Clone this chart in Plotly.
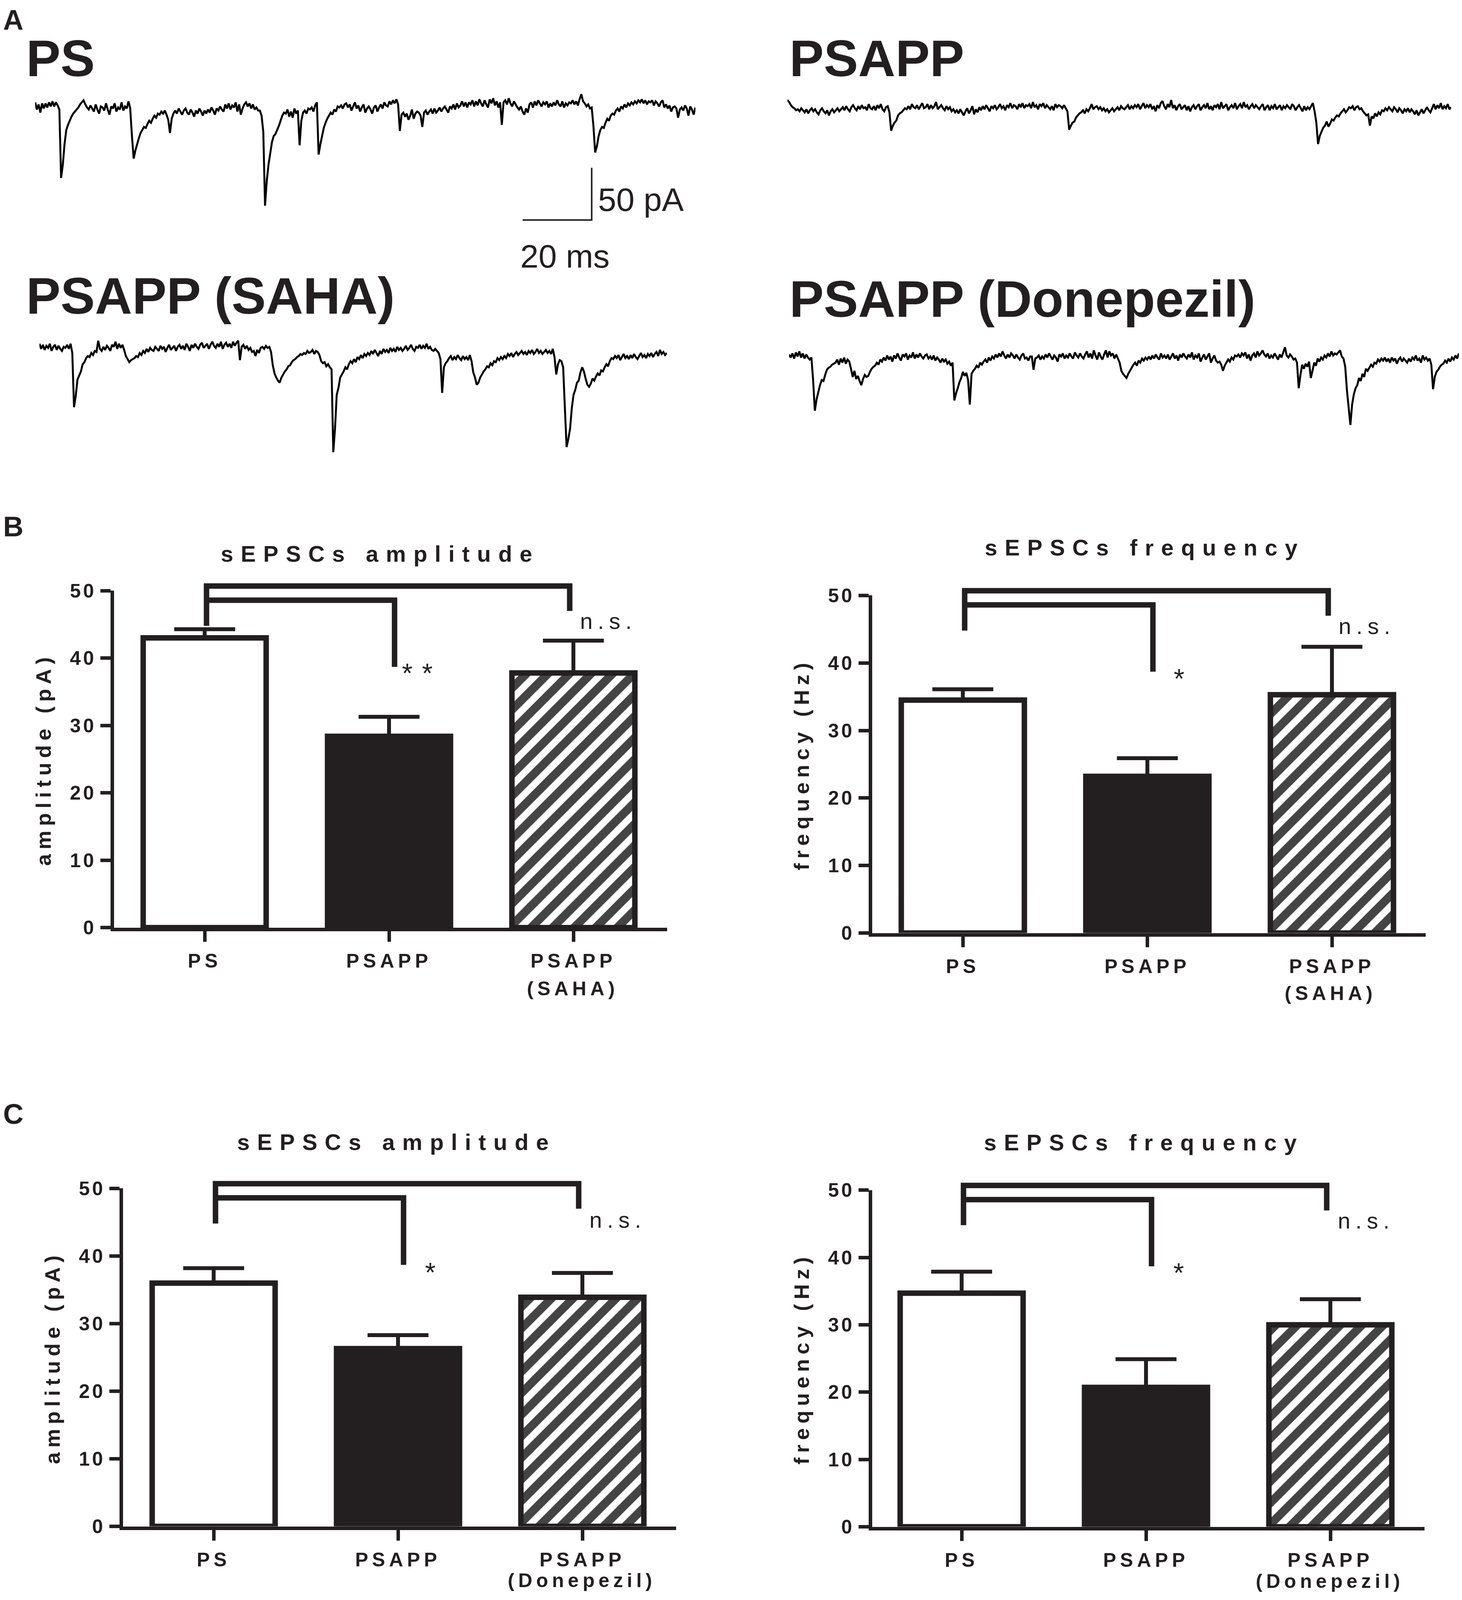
import numpy as np
import plotly.graph_objects as go

W, H = 3743, 4472
PAGE_MARGIN = 8  # browser default on <body>
INK = "#231f20"
SANS = "Liberation Sans"

# sampled current traces, one value every 0.5 ms, in pA
dt = 0.5
ps_trace = [
    3,-4,1,-7,2,-3,2,-2,3,-1, 4,-1,3,0,-4,-71,-58,-38,-24,-19,
    -15,-11,-8,-6,-4,-2,1,3,5,1, -2,-4,0,-3,-6,1,-4,-8,-1,-2,
    -5,2,-4,-9,-1,-3,2,-6,-2,-4, 3,-5,-1,-3,4,-3,-30,-52,-44,-38,
    -32,-27,-24,-21,-22,-18,-15,-17,-13,-10, -12,-8,-9,-6,-8,-5,-9,-14,-27,-13,
    -8,-5,-8,-3,-6,-9,-5,-3,-7,-9, -4,-7,-11,-5,-8,-3,-6,-10,-5,-8,
    -4,-7,-2,-5,-9,-3,-5,-1,-4,-6, 1,-3,2,-4,0,-2,3,-6,1,-9,
    -3,1,3,-1,2,-3,1,-4,-2,-5, -5,-10,-26,-98,-74,-58,-47,-36,-30,-28,
    -24,-20,-15,-10,-7,-8,-4,-11,-6,-12, -3,-8,-5,-39,-15,-7,-5,-8,-3,-4,
    -2,-6,0,3,-48,-38,-30,-22,-17,-13, -10,-7,-9,-4,-6,-1,-2,0,-3,1,
    2,-2,1,-5,-1,3,-3,0,-6,-2, 1,-7,-3,-1,-4,-8,-2,0,-6,-2,
    1,-3,3,0,-1,4,1,5,2,6, 1,-25,-9,-7,-11,-8,-14,-10,-4,-13,
    -8,-6,-7,-10,-21,-7,-5,-9,-6,-4, -8,-3,-7,-5,-2,-6,-3,-1,-4,-7,
    -1,-3,1,-4,2,-2,0,4,-1,3, -2,3,1,5,-1,4,0,6,2,-1,
    5,1,-2,6,2,7,0,4,-2,3, -19,3,5,1,7,2,-1,4,1,-2,
    -4,-1,-6,-9,-3,-7,1,3,-2,4, 0,5,2,-1,3,1,4,-2,2,-1,
    3,0,5,1,-1,4,-2,2,0,3, 2,5,1,4,0,6,11,4,2,-1,
    1,-3,-2,-20,-46,-40,-30,-24,-21,-22, -17,-13,-15,-10,-8,-9,-5,-3,-6,-1,
    -3,1,-2,2,0,3,1,4,2,5, 3,6,2,5,1,4,3,5,0,4,
    2,-1,3,5,-2,1,-3,0,-6,-2, -1,-3,-12,-4,-2,-5,0,-3,-10,-1,
    -4,-9,-2,
]
psapp_trace = [
    7,5,2,0,-1,-3,-2,-4,-1,-3, -5,-2,-6,-3,-1,-4,-2,-5,-7,-3,
    -1,-4,-6,-3,-8,-4,-2,-5,-3,-1, -4,-2,0,-3,1,-2,-4,0,2,-1,
    -3,1,-2,2,-1,0,-3,3,-1,-2, 1,-3,2,-1,3,-2,-4,0,1,-5,
    -23,-18,-15,-13,-8,-6,-5,-3,-1,-2, 1,-2,3,0,-1,2,-2,1,4,-1,
    0,3,-2,2,-1,1,5,-2,0,2, -1,-3,1,-2,0,-4,-2,-5,-3,-6,
    -2,-5,-8,-4,-1,-6,-3,1,-7,-2, -5,0,-3,1,-2,2,-1,-4,1,-1,
    2,-2,0,3,-1,1,-3,2,0,4, -1,2,1,-2,3,0,4,-1,2,1,
    3,-1,5,0,2,-2,3,1,4,-1, 2,0,-2,1,-3,3,0,2,1,-1,
    2,-1,-4,-22,-18,-15,-14,-10,-8,-6, -5,-3,-6,-2,-4,-1,3,-2,0,1,
    -2,0,-3,-1,-4,-2,-5,-3,-1,-4, -2,0,-3,1,-1,-2,0,2,-2,1,
    -1,2,0,3,-2,1,4,-1,2,0, 3,-2,1,-4,2,-1,4,6,1,-2,
    3,0,7,-1,2,-3,1,3,-2,0, 2,-3,1,-4,0,2,-2,1,3,-3,
    0,2,-1,4,-2,1,-3,2,0,3, -2,5,-1,1,3,-3,0,2,-1,4,
    -2,1,3,-1,5,0,2,-2,1,3, -1,2,0,-2,1,3,-3,0,2,-3,
    1,-1,3,-2,0,2,-3,1,-1,2, 0,-2,3,1,-3,0,2,-1,-4,1,
    -3,0,-2,1,4,-4,-15,-36,-28,-24, -20,-18,-14,-19,-16,-12,-13,-10,-8,-9,
    -6,-4,-2,-5,-3,0,-1,1,-3,0, 1,-2,-1,-4,-6,-8,-7,-18,-9,-11,
    -6,-9,-5,-7,-3,-4,-1,-3,0,-2, -4,0,-2,-5,-1,-3,-6,-2,-4,-1,
    -5,-2,-4,-7,-3,-8,-5,-2,-6,-3, 0,-3,-5,-1,3,-2,2,-1,4,-2,
    1,-1,3,-2,0,
]
saha_trace = [
    3,-2,2,-3,1,-1,3,-4,0,2, -3,1,-2,-4,0,-1,2,-2,3,-6,
    -59,-48,-32,-28,-24,-17,-15,-11,-9,-10, -6,-8,-4,-5,6,-2,-4,0,-3,1,
    -1,-4,2,0,5,-2,3,-1,2,-3, -9,-12,-15,-13,-12,-11,-9,-10,-6,-8,
    -4,-6,-2,-5,-1,-3,-4,0,-2,-4, 1,-2,0,-5,-1,2,-3,-1,1,-4,
    0,2,-2,1,-3,3,0,-4,2,-1, 3,0,-2,2,4,-1,1,3,-2,2,
    5,1,-1,3,0,5,-2,2,4,0, 3,-1,5,1,4,6,-13,0,2,-2,
    1,-3,-1,-5,-4,-9,-3,-6,-1,0, -2,1,-1,0,-5,-18,-26,-30,-33,-35,
    -30,-27,-24,-22,-19,-18,-15,-13,-12,-10, -9,-7,-8,-6,-7,-4,-6,-5,-3,-7,
    -4,-5,-8,-14,-16,-15,-19,-17,-20,-22, -103,-80,-47,-40,-30,-27,-24,-20,-22,-17,
    -14,-16,-12,-15,-10,-12,-8,-11,-7,-9, -6,-8,-4,-7,-3,-6,-9,-4,-7,-2,
    -5,-3,-6,-1,-4,-2,-5,0,-3,-1, -4,-2,1,-3,-1,2,-2,-4,0,-1,
    2,-2,1,-1,3,-2,0,-3,-4,-2, -4,-6,-12,-45,-20,-16,-14,-11,-9,-13,
    -10,-12,-8,-11,-13,-9,-12,-10,-13,-8, -14,-25,-30,-37,-35,-30,-27,-24,-22,-19,
    -20,-16,-18,-14,-15,-11,-13,-10,-12,-9, -11,-7,-9,-6,-10,-7,-5,-8,-6,-4,
    -7,-5,-8,-4,-6,-3,-7,-5,-2,-6, -4,-7,-5,-3,-6,-4,-7,-2,-10,-27,
    -17,-13,-14,-20,-60,-98,-90,-80,-60,-47, -42,-35,-33,-25,-20,-24,-31,-37,-39,-36,
    -31,-33,-29,-26,-28,-23,-24,-20,-17,-19, -14,-11,-12,-9,-11,-8,-13,-10,-7,-11,
    -9,-12,-8,-11,-7,-10,-12,-9,-6,-10, -8,-11,-7,-9,-6,-10,-7,-5,-9,-3,
    -7,-5,-8,-6,
]
donepezil_trace = [
    2,-1,3,-2,4,0,5,-1,3,-2, 2,-1,-3,-1,-23,-53,-42,-35,-28,-23,
    -24,-18,-13,-11,-10,-8,-7,-6,-3,-8, -2,-6,-1,-7,-3,-5,-12,-20,-14,-22,
    -19,-24,-28,-22,-18,-20,-19,-15,-12,-10, -9,-6,-8,-3,-5,-1,-4,1,-3,0,
    -5,1,-2,3,-1,-4,2,0,3,-3, 1,-1,4,-2,2,-1,3,0,-2,1,
    2,-2,0,-3,1,-4,-1,-3,-6,-2, -5,-3,-7,-5,-9,-6,-43,-36,-31,-25,
    -21,-15,-19,-16,-23,-47,-17,-14,-12,-9, -11,-6,-8,-5,-3,-6,-1,-4,0,-2,
    2,-1,3,0,5,1,-2,2,-1,3, 1,-2,2,-1,-3,1,3,-2,-1,-4,
    0,0,-13,-2,-1,1,-3,0,-2,2, -1,3,0,-3,1,-1,-5,2,0,3,
    -2,1,-1,3,0,-2,4,1,-1,3, 0,-2,2,5,-1,3,-2,6,1,-3,
    4,0,-3,2,6,-1,5,1,3,-2, 2,-2,-6,-14,-17,-19,-21,-17,-14,-11,
    -8,-6,-9,-4,-6,-2,-4,-1,-3,0, -3,1,-2,2,-1,-3,3,-1,1,-2,
    2,-3,0,3,-2,1,-4,2,-1,3, 0,-2,2,-1,4,-3,1,-1,3,-5,
    -1,2,-3,0,3,-6,-2,1,-4,-6, -5,-8,-14,-9,-6,-3,-5,-1,-3,1,
    0,2,-1,3,1,4,-2,2,-4,1, 3,-1,5,1,3,6,2,0,3,-2,
    1,-1,3,0,-3,2,-1,4,9,1, -1,2,0,-3,-2,-6,-31,-18,-8,-12,
    -7,-10,-5,-21,-14,-6,-9,-2,-5,-1, -3,1,-1,3,0,5,1,3,2,4,
    6,0,-2,-10,-33,-50,-67,-47,-37,-31, -28,-21,-24,-17,-20,-12,-14,-11,-8,-10,
    -6,-7,-3,-5,-2,-4,-1,-5,-2,-6, -1,-4,-2,-7,-3,-1,-5,-2,-4,-6,
    -2,-5,-1,-3,1,-4,-2,-6,1,-3, -1,-4,-2,-8,-32,-20,-15,-13,-10,-8,
    -7,-4,-6,-2,-5,-1,-3,1,-2,3,
]
scale_t = [141, 161, 161]
scale_i = [-112, -112, -61]

# bar panels
groups = [0, 1, 2]
labels = ["PS", "PSAPP", "PSAPP"]
yticks = [0, 10, 20, 30, 40, 50]

b_amp_mean = [43.0, 28.4, 37.8]
b_amp_err = [1.3, 2.9, 4.8]
b_freq_mean = [34.5, 23.2, 35.3]
b_freq_err = [1.6, 2.7, 7.1]
c_amp_mean = [36.0, 26.3, 33.9]
c_amp_err = [2.2, 2.0, 3.6]
c_freq_mean = [34.7, 20.7, 30.0]
c_freq_err = [3.2, 4.2, 3.8]

bracket_x = [0.01, 0.01, 1.98, 1.98]
bracket_y = [44.8, 50.7, 50.7, 47.0]
inner_x = [0.01, 0.01, 1.03, 1.03]
inner_y = [48.6, 48.6, 48.6, 38.7]

fig = go.Figure()
FIG_W, FIG_H = W - 2 * PAGE_MARGIN, H - 2 * PAGE_MARGIN


def fx(x):
    return (x - PAGE_MARGIN) / FIG_W


def fy(y):
    return 1 - (y - PAGE_MARGIN) / FIG_H


def sp(text, n):
    return f'<span style="letter-spacing:{n}px">{text}</span>'


def note(x, base, text, size, family=SANS, weight=700, anchor="center"):
    # x and the baseline are in page pixels
    fig.add_annotation(
        x=fx(x), y=fy(base - 0.3465 * size), xref="paper", yref="paper",
        text=text, showarrow=False, xanchor=anchor, yanchor="middle",
        font=dict(family=family, size=size, color=INK, weight=weight),
        borderpad=0,
    )


def add_trace_panel(n, values, x0, base, extra=None):
    ms = 8.85
    pa = 2.86
    top, bottom = base - 60, base + 345
    t = np.arange(len(values)) * dt
    x1 = min(fx(x0 + t[-1] * ms), 1)
    fig.add_trace(go.Scatter(
        x=t, y=values, mode="lines", xaxis=f"x{n}", yaxis=f"y{n}",
        line=dict(color="black", width=5, simplify=False),
    ))
    if extra:
        fig.add_trace(go.Scatter(
            x=extra[0], y=extra[1], mode="lines", xaxis=f"x{n}", yaxis=f"y{n}",
            line=dict(color=INK, width=4), cliponaxis=False,
        ))
    hidden = dict(visible=False, fixedrange=True)
    fig.update_layout({
        f"xaxis{n}": dict(hidden, domain=[fx(x0), x1], range=[0, t[-1]], anchor=f"y{n}"),
        f"yaxis{n}": dict(hidden, domain=[fy(bottom), fy(top)],
                          range=[-(bottom - base) / pa, (base - top) / pa], anchor=f"x{n}"),
    })


def add_bar_panel(n, mean, err, ylabel, axis_x, y0, y50, first, step, right, standoff):
    fig.add_trace(go.Bar(
        x=groups, y=mean, width=0.667, xaxis=f"x{n}", yaxis=f"y{n}",
        marker=dict(
            color=["white", INK, "white"],
            line=dict(color=INK, width=14),
            pattern=dict(shape=["", "", "/"], fgcolor=INK, bgcolor="white", fgopacity=1,
                         size=39, solidity=0.55),
        ),
        error_y=dict(type="data", symmetric=False, array=err, arrayminus=[0, 0, 0],
                     color=INK, thickness=10, width=78),
    ))
    # the brackets rise over the 50 tick, so they sit on a taller hidden y axis
    over = 60
    top_axis = n + 10
    for bx, by in ((bracket_x, bracket_y), (inner_x, inner_y)):
        fig.add_trace(go.Scatter(
            x=bx, y=by, mode="lines", xaxis=f"x{n}", yaxis=f"y{top_axis}",
            line=dict(color=INK, width=14),
        ))
    left = axis_x + 4.5
    bold = dict(family=SANS, size=50, color=INK, weight=700)
    fig.update_layout({
        f"xaxis{n}": dict(
            domain=[fx(left), fx(right)],
            range=[(left - first) / step, (right - first) / step],
            anchor=f"y{n}", showline=True, linewidth=9, linecolor=INK,
            ticks="outside", ticklen=27, tickwidth=9, tickcolor=INK,
            tickmode="array", tickvals=groups, ticktext=[sp(s, 10) for s in labels],
            tickfont=bold, ticklabelstandoff=6, showgrid=False, zeroline=False,
        ),
        f"yaxis{n}": dict(
            domain=[fy(y0), fy(y50)], range=[0, 50], anchor=f"x{n}",
            showline=True, linewidth=9, linecolor=INK,
            ticks="outside", ticklen=26, tickwidth=9, tickcolor=INK,
            tickmode="array", tickvals=yticks, ticktext=[sp(v, 6) for v in yticks],
            tickfont=bold, showgrid=False, zeroline=False,
            title=dict(text=sp(ylabel, 12), font=dict(family=SANS, size=54, color=INK, weight=700),
                       standoff=standoff),
        ),
        f"yaxis{top_axis}": dict(
            domain=[fy(y0), fy(y50 - over)], range=[0, 50 * (y0 - y50 + over) / (y0 - y50)],
            anchor=f"x{n}", visible=False,
        ),
    })


add_trace_panel(1, ps_trace, 90, 294, extra=(scale_t, scale_i))
add_trace_panel(2, psapp_trace, 2016, 299)
add_trace_panel(3, saha_trace, 101, 969)
add_trace_panel(4, donepezil_trace, 2020, 996)

add_bar_panel(5, b_amp_mean, b_amp_err, "amplitude (pA)", 287, 2593, 1651, 524, 472, 1708, 34)
add_bar_panel(6, b_freq_mean, b_freq_err, "frequency (Hz)", 2228, 2608, 1664, 2465, 472.5, 3650, 34)
add_bar_panel(7, c_amp_mean, c_amp_err, "amplitude (pA)", 310, 4267, 3322, 547, 472, 1731, 34)
add_bar_panel(8, c_freq_mean, c_freq_err, "frequency (Hz)", 2228, 4268, 3327, 2462, 472, 3647, 34)

# panel letters
for letter, x, base in (("A", 34, 80), ("B", 34, 1496), ("C", 34, 3139)):
    note(x, base, letter, 72)

# trace names and scale bar text
note(66, 208, "PS", 132, anchor="left")
note(2020, 208, "PSAPP", 132, anchor="left")
note(66, 872, "PSAPP (SAHA)", 132, anchor="left")
note(2020, 881, "PSAPP (Donepezil)", 132, anchor="left")
note(1530, 586, "50 pA", 84, weight=400, anchor="left")
note(1331, 745, "20 ms", 84, weight=400, anchor="left")

# chart titles
note(973, 1567, sp("sEPSCs amplitude", 19), 58)
note(2931, 1550, sp("sEPSCs frequency", 19), 58)
note(1015, 3212, sp("sEPSCs amplitude", 19), 58)
note(2929, 3213, sp("sEPSCs frequency", 19), 58)

# significance marks
note(1558, 1755, sp("n.s.", 13), 58, weight=400)
note(1080, 1906, sp("**", 24), 70, weight=400)
note(3500, 1769, sp("n.s.", 13), 58, weight=400)
note(3018, 1922, "*", 70, weight=400)
note(1582, 3430, sp("n.s.", 13), 58, weight=400)
note(1101, 3582, "*", 70, weight=400)
note(3498, 3432, sp("n.s.", 13), 58, weight=400)
note(3017, 3583, "*", 70, weight=400)

# second line of the last category
note(1466, 2781, sp("(SAHA)", 10), 50)
note(3406, 2794, sp("(SAHA)", 10), 50)
note(1489, 4436, sp("(Donepezil)", 10), 50)
note(3404, 4438, sp("(Donepezil)", 10), 50)

# no fixed size: the figure fills the browser window
fig.update_layout(
    margin=dict(l=0, r=0, t=0, b=0, autoexpand=False),
    paper_bgcolor="white", plot_bgcolor="rgba(0,0,0,0)", showlegend=False,
)

fig.write_html("out.html")
